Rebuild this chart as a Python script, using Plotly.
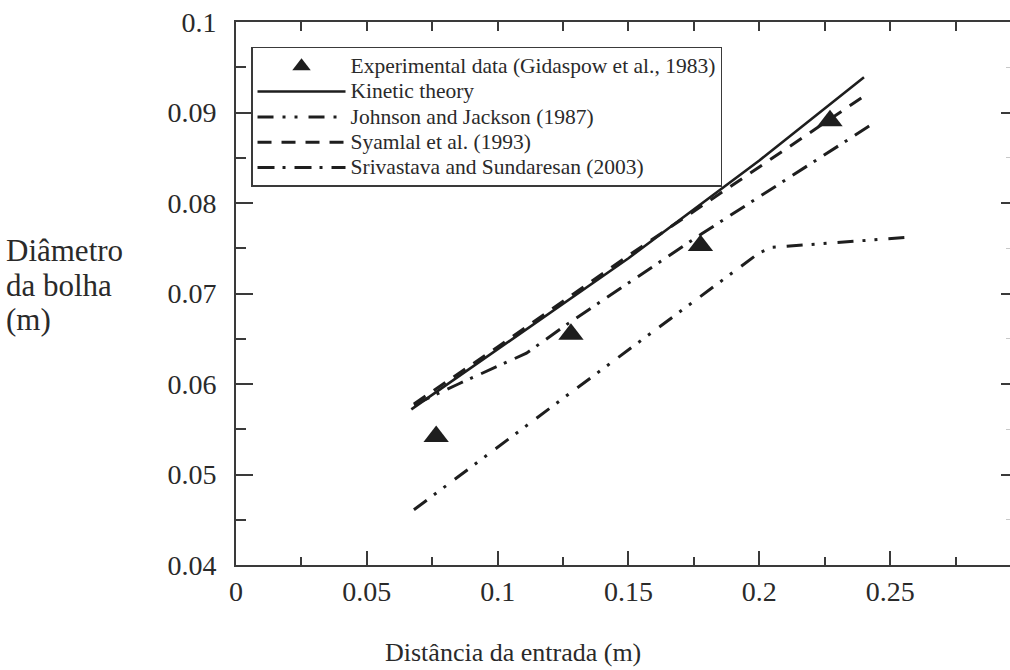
import plotly.graph_objects as go

# Experimental bubble diameters (Gidaspow et al., 1983)
exp_x = [0.0765, 0.128, 0.1775, 0.227]
exp_y = [0.0542, 0.0655, 0.0753, 0.0891]

# Simulated profiles
kin_x = [0.067, 0.1, 0.135, 0.15, 0.2, 0.24]
kin_y = [0.0572, 0.0638, 0.0709, 0.0739, 0.0847, 0.0939]

jj_x = [0.068, 0.124, 0.2, 0.205, 0.256]
jj_y = [0.0461, 0.0582, 0.0745, 0.0751, 0.0762]

sy_x = [0.068, 0.1, 0.15, 0.2, 0.242]
sy_y = [0.0578, 0.0641, 0.0742, 0.0840, 0.0922]

ss_x = [0.068, 0.085, 0.111, 0.127, 0.178, 0.242]
ss_y = [0.0577, 0.0600, 0.0634, 0.0667, 0.0766, 0.0885]

names = [
    "Experimental data (Gidaspow et al., 1983)",
    "Kinetic theory",
    "Johnson and Jackson (1987)",
    "Syamlal et al. (1993)",
    "Srivastava and Sundaresan (2003)",
]

x_range = [0, 0.2958]
y_range = [0.04, 0.1]

SERIF = "Liberation Serif"
INK = "#1e1e1e"
TXT = "#2a2a2a"
AX = "#3a3a3a"


def legend_label(text):
    # legend rows stay compact while the entry text is set a little larger
    return '<span style="font-size:21.5px">' + text + "</span>"


fig = go.Figure()

fig.add_trace(go.Scatter(
    x=exp_x, y=exp_y, mode="markers", name=legend_label(names[0]),
    marker=dict(symbol="triangle-up", size=22, color=INK, line=dict(width=0)),
))
fig.add_trace(go.Scatter(
    x=kin_x, y=kin_y, mode="lines", name=legend_label(names[1]),
    line=dict(color=INK, width=2.6, dash="solid"),
))
fig.add_trace(go.Scatter(
    x=jj_x, y=jj_y, mode="lines", name=legend_label(names[2]),
    line=dict(color=INK, width=3, dash="16px,9px,3px,9px,3px,11px"),
))
fig.add_trace(go.Scatter(
    x=sy_x, y=sy_y, mode="lines", name=legend_label(names[3]),
    line=dict(color=INK, width=3, dash="14px,10px"),
))
fig.add_trace(go.Scatter(
    x=ss_x, y=ss_y, mode="lines", name=legend_label(names[4]),
    line=dict(color=INK, width=3, dash="17px,8px,3px,9px"),
))

# invisible helper traces that attach the top and right tick axes
fig.add_trace(go.Scatter(x=x_range, y=y_range, xaxis="x2", yaxis="y", mode="markers",
                         marker=dict(opacity=0), showlegend=False, hoverinfo="skip"))
fig.add_trace(go.Scatter(x=x_range, y=y_range, xaxis="x", yaxis="y2", mode="markers",
                         marker=dict(opacity=0), showlegend=False, hoverinfo="skip"))

fig.update_layout(
    width=1010, height=670,
    margin=dict(l=236, r=0, t=22, b=105),
    paper_bgcolor="white", plot_bgcolor="white",
    font=dict(family=SERIF, color=TXT),
    showlegend=True,
    legend=dict(
        x=0.0194, y=0.954, xanchor="left", yanchor="top",
        bgcolor="white", bordercolor=AX, borderwidth=1.5,
        font=dict(family=SERIF, size=17.2, color=TXT),
        itemwidth=88, traceorder="normal",
    ),
    xaxis=dict(
        range=x_range, showgrid=False, zeroline=False,
        showline=True, linecolor=AX, linewidth=1.6,
        ticks="inside", tickmode="linear", tick0=0, dtick=0.05,
        ticklen=14, tickwidth=1.6, tickcolor=AX,
        minor=dict(ticks="inside", dtick=0.025, ticklen=8, tickwidth=1.6, tickcolor=AX),
        tickfont=dict(family=SERIF, size=28, color=TXT),
        ticklabelstandoff=1,
    ),
    xaxis2=dict(
        range=x_range, overlaying="x", side="top", anchor="y",
        showgrid=False, zeroline=False, showticklabels=False,
        showline=True, linecolor=AX, linewidth=1.6,
        ticks="inside", tickmode="linear", tick0=0, dtick=0.025,
        ticklen=9, tickwidth=1.6, tickcolor=AX,
    ),
    yaxis=dict(
        range=y_range, showgrid=False, zeroline=False,
        showline=True, linecolor=AX, linewidth=1.6,
        ticks="inside", tickmode="linear", tick0=0, dtick=0.01,
        ticklen=17, tickwidth=1.6, tickcolor=AX,
        minor=dict(ticks="inside", dtick=0.005, ticklen=10, tickwidth=1.6, tickcolor=AX),
        tickfont=dict(family=SERIF, size=28, color=TXT),
        ticklabelstandoff=12,
    ),
    yaxis2=dict(
        range=y_range, overlaying="y", side="right", anchor="x",
        showgrid=False, zeroline=False, showticklabels=False, showline=False,
        ticks="inside", tickmode="linear", tick0=0, dtick=0.01,
        ticklen=9, tickwidth=1.6, tickcolor=AX,
        minor=dict(ticks="inside", dtick=0.005, ticklen=4, tickwidth=1.4, tickcolor="#c8c8c8"),
    ),
)

# horizontal y-axis label and x-axis label
for txt, ypix in [("Diâmetro", 250), ("da bolha", 285), ("(m)", 319)]:
    fig.add_annotation(
        text=txt, xref="paper", yref="paper",
        x=-232 / 774, y=1 - (ypix - 22) / 543,
        xanchor="left", yanchor="middle", showarrow=False,
        font=dict(family=SERIF, size=31, color=TXT),
    )

fig.add_annotation(
    text="Distância da entrada (m)", xref="paper", yref="paper",
    x=(513 - 236) / 774, y=-(652 - 565) / 543,
    xanchor="center", yanchor="middle", showarrow=False,
    font=dict(family=SERIF, size=26, color=TXT),
)

fig.write_html("out.html")
